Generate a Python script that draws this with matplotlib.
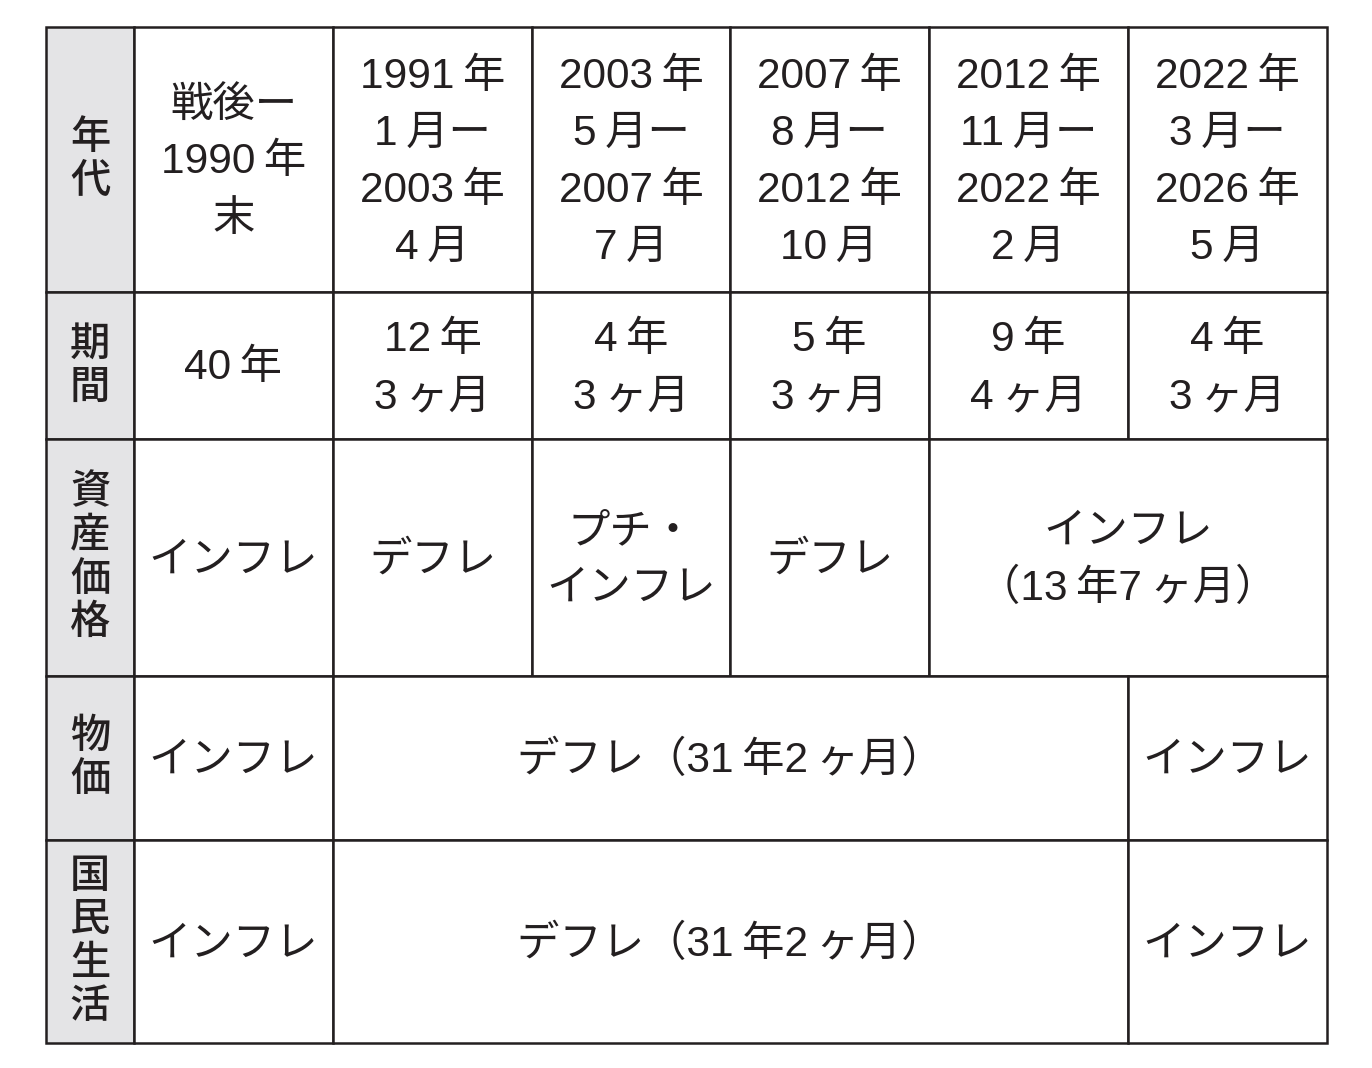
import matplotlib.pyplot as plt
from matplotlib.patches import Rectangle

# Latin digits in a Helvetica-like face, Japanese falls through to Noto CJK
plt.rcParams['font.family'] = ['Liberation Sans', 'Noto Sans CJK JP', 'DejaVu Sans']

S = '\u2009'  # thin gap between half-width digits and kana/kanji

# Table content
row_headers = ['年代', '期間', '資産価格', '物価', '国民生活']

# each row: list of (text, number of columns spanned)
row_era = [(f'戦後ー\n1990{S}年\n末', 1),
           (f'1991{S}年\n1{S}月ー\n2003{S}年\n4{S}月', 1),
           (f'2003{S}年\n5{S}月ー\n2007{S}年\n7{S}月', 1),
           (f'2007{S}年\n8{S}月ー\n2012{S}年\n10{S}月', 1),
           (f'2012{S}年\n11{S}月ー\n2022{S}年\n2{S}月', 1),
           (f'2022{S}年\n3{S}月ー\n2026{S}年\n5{S}月', 1)]
row_period = [(f'40{S}年', 1),
              (f'12{S}年\n3{S}ヶ月', 1),
              (f'4{S}年\n3{S}ヶ月', 1),
              (f'5{S}年\n3{S}ヶ月', 1),
              (f'9{S}年\n4{S}ヶ月', 1),
              (f'4{S}年\n3{S}ヶ月', 1)]
row_asset = [('インフレ', 1), ('デフレ', 1), ('プチ・\nインフレ', 1),
             ('デフレ', 1), (f'インフレ\n（13{S}年7{S}ヶ月）', 2)]
row_price = [('インフレ', 1), (f'デフレ（31{S}年2{S}ヶ月）', 4), ('インフレ', 1)]
row_life = [('インフレ', 1), (f'デフレ（31{S}年2{S}ヶ月）', 4), ('インフレ', 1)]
rows = [row_era, row_period, row_asset, row_price, row_life]

# Layout (pixels)
col_edges = [46, 134, 333, 532, 730, 929, 1128, 1327]
row_edges = [27, 292, 439, 676, 840, 1043]
line_color = '#231f20'
header_bg = '#e4e4e6'
lw = 1.8

fig = plt.figure(figsize=(13.72, 10.68), dpi=100)
ax = fig.add_axes([0, 0, 1, 1])
ax.set_xlim(0, 1372)
ax.set_ylim(1068, 0)
ax.axis('off')


def draw_cell(x0, x1, y0, y1, face):
    ax.add_patch(Rectangle((x0, y0), x1 - x0, y1 - y0, facecolor=face,
                           edgecolor=line_color, linewidth=lw))


for r, header in enumerate(row_headers):
    y0, y1 = row_edges[r], row_edges[r + 1]
    draw_cell(col_edges[0], col_edges[1], y0, y1, header_bg)
    ax.text((col_edges[0] + col_edges[1]) / 2, (y0 + y1) / 2, '\n'.join(header),
            ha='center', va='center', fontsize=29, fontweight='medium',
            family=['Noto Sans CJK JP'], color=line_color, linespacing=1.08)
    c = 1
    for text, span in rows[r]:
        x0, x1 = col_edges[c], col_edges[c + span]
        draw_cell(x0, x1, y0, y1, 'white')
        ax.text((x0 + x1) / 2, (y0 + y1) / 2 + 3, text, ha='center', va='center',
                fontsize=30.5, fontweight='normal', color=line_color,
                linespacing=1.55)
        c += span

fig.savefig('out.png', dpi=100)
